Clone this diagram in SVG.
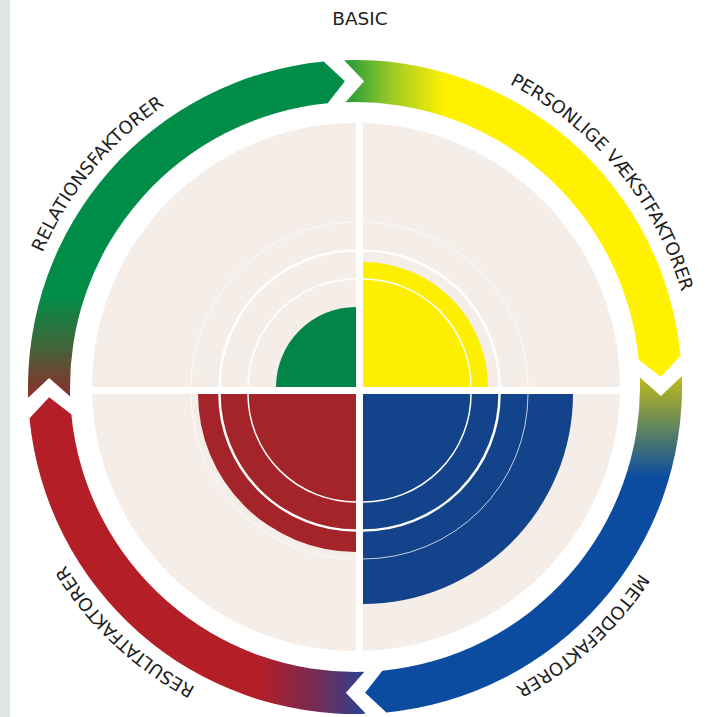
<svg xmlns="http://www.w3.org/2000/svg" width="707" height="717" viewBox="0 0 707 717">
<style>
.lbl{font-family:"DejaVu Sans","Liberation Sans",sans-serif;font-size:18px;fill:#1e1e1e}
.ring1{fill:none;stroke:#ffffff;stroke-opacity:0.75;stroke-width:1}
.ring2{fill:none;stroke:#ffffff;stroke-width:2.5}
.ring3{fill:none;stroke:#ffffff;stroke-width:1.5}
</style>
<defs>
<linearGradient id="gGreen" gradientUnits="userSpaceOnUse" x1="0" y1="295" x2="0" y2="398">
<stop offset="0" stop-color="#008d48"/>
<stop offset="0.45" stop-color="#3a6a3c"/>
<stop offset="1" stop-color="#8f2d2b"/>
</linearGradient>
<linearGradient id="gYellow" gradientUnits="userSpaceOnUse" x1="345" y1="0" x2="445" y2="0">
<stop offset="0" stop-color="#1e9a3b"/>
<stop offset="0.5" stop-color="#a5cc25"/>
<stop offset="1" stop-color="#fff100"/>
</linearGradient>
<linearGradient id="gBlue" gradientUnits="userSpaceOnUse" x1="0" y1="378" x2="0" y2="478">
<stop offset="0" stop-color="#bdb91a"/>
<stop offset="0.45" stop-color="#6a8a5a"/>
<stop offset="1" stop-color="#0b4ca1"/>
</linearGradient>
<linearGradient id="gRed" gradientUnits="userSpaceOnUse" x1="258" y1="0" x2="365" y2="0">
<stop offset="0" stop-color="#b41e27"/>
<stop offset="0.5" stop-color="#7a2a50"/>
<stop offset="1" stop-color="#2c4291"/>
</linearGradient>
<path id="labelCircle" d="M355,727 A340,340 0 0 1 355,47 A340,340 0 0 1 355,727"/>
</defs>
<rect x="0" y="0" width="707" height="717" fill="#ffffff"/>
<rect x="0" y="0" width="10" height="717" fill="#dfe6e2"/>
<g id="connectors">
<path id="arrow-relation" fill="url(#gGreen)" d="M28.18,397.84 A327,327 0 0 1 323.66,61.50 L344.85,81.17 L327.68,103.31 A285,285 0 0 0 70.16,396.45 L49.13,377.92 Z"/>
<path id="arrow-personal" fill="url(#gYellow)" d="M344.16,60.18 A327,327 0 0 1 680.50,355.66 L660.83,376.85 L638.69,359.68 A285,285 0 0 0 345.55,102.16 L364.08,81.13 Z"/>
<path id="arrow-method" fill="url(#gBlue)" d="M681.82,376.16 A327,327 0 0 1 386.34,712.50 L365.15,692.83 L382.32,670.69 A285,285 0 0 0 639.84,377.55 L660.87,396.08 Z"/>
<path id="arrow-result" fill="url(#gRed)" d="M365.84,713.82 A327,327 0 0 1 29.50,418.34 L49.17,397.15 L71.31,414.32 A285,285 0 0 0 364.45,671.84 L345.92,692.87 Z"/>
</g>
<g id="disk">
<circle cx="356" cy="387" r="264" fill="#f5ede7"/>
</g>
<g id="q-relation">
<path d="M356,387 L276,387 A80,80 0 0 1 356,307 Z" fill="#03854a"/>
<path class="ring1" d="M191,387 A165,165 0 0 1 356,222"/>
<path class="ring2" d="M219.5,387 A136.5,136.5 0 0 1 356,250.5"/>
<path class="ring3" d="M248,387 A108,108 0 0 1 356,279"/>
</g>
<g id="q-personal">
<path d="M363,387 L363,262 A125,125 0 0 1 488,387 Z" fill="#fdef00"/>
<path class="ring1" d="M363,222 A165,165 0 0 1 528,387"/>
<path class="ring2" d="M363,250.5 A136.5,136.5 0 0 1 499.5,387"/>
<path class="ring3" d="M363,279 A108,108 0 0 1 471,387"/>
</g>
<g id="q-method">
<path d="M363,394 L573,394 A210,210 0 0 1 363,604 Z" fill="#13448b"/>
<path class="ring1" d="M528,394 A165,165 0 0 1 363,559"/>
<path class="ring2" d="M499.5,394 A136.5,136.5 0 0 1 363,530.5"/>
<path class="ring3" d="M471,394 A108,108 0 0 1 363,502"/>
</g>
<g id="q-result">
<path d="M356,394 L356,552 A158,158 0 0 1 198,394 Z" fill="#a52429"/>
<path class="ring1" d="M356,559 A165,165 0 0 1 191,394"/>
<path class="ring2" d="M356,530.5 A136.5,136.5 0 0 1 219.5,394"/>
<path class="ring3" d="M356,502 A108,108 0 0 1 248,394"/>
</g>
<g id="cross">
<rect x="356" y="118" width="7" height="540" fill="#ffffff"/>
<rect x="88" y="387" width="540" height="7" fill="#ffffff"/>
</g>
<g id="labels">
<text class="lbl" x="360" y="25" text-anchor="middle" style="font-size:18.5px">BASIC</text>
<text class="lbl" text-anchor="middle"><textPath href="#labelCircle" startOffset="36%">RELATIONSFAKTORER</textPath></text>
<text class="lbl" text-anchor="middle"><textPath href="#labelCircle" startOffset="64%">PERSONLIGE VÆKSTFAKTORER</textPath></text>
<text class="lbl" text-anchor="middle"><textPath href="#labelCircle" startOffset="88.2%">METODEFAKTORER</textPath></text>
<text class="lbl" text-anchor="middle"><textPath href="#labelCircle" startOffset="12%">RESULTATFAKTORER</textPath></text>
</g>
</svg>
